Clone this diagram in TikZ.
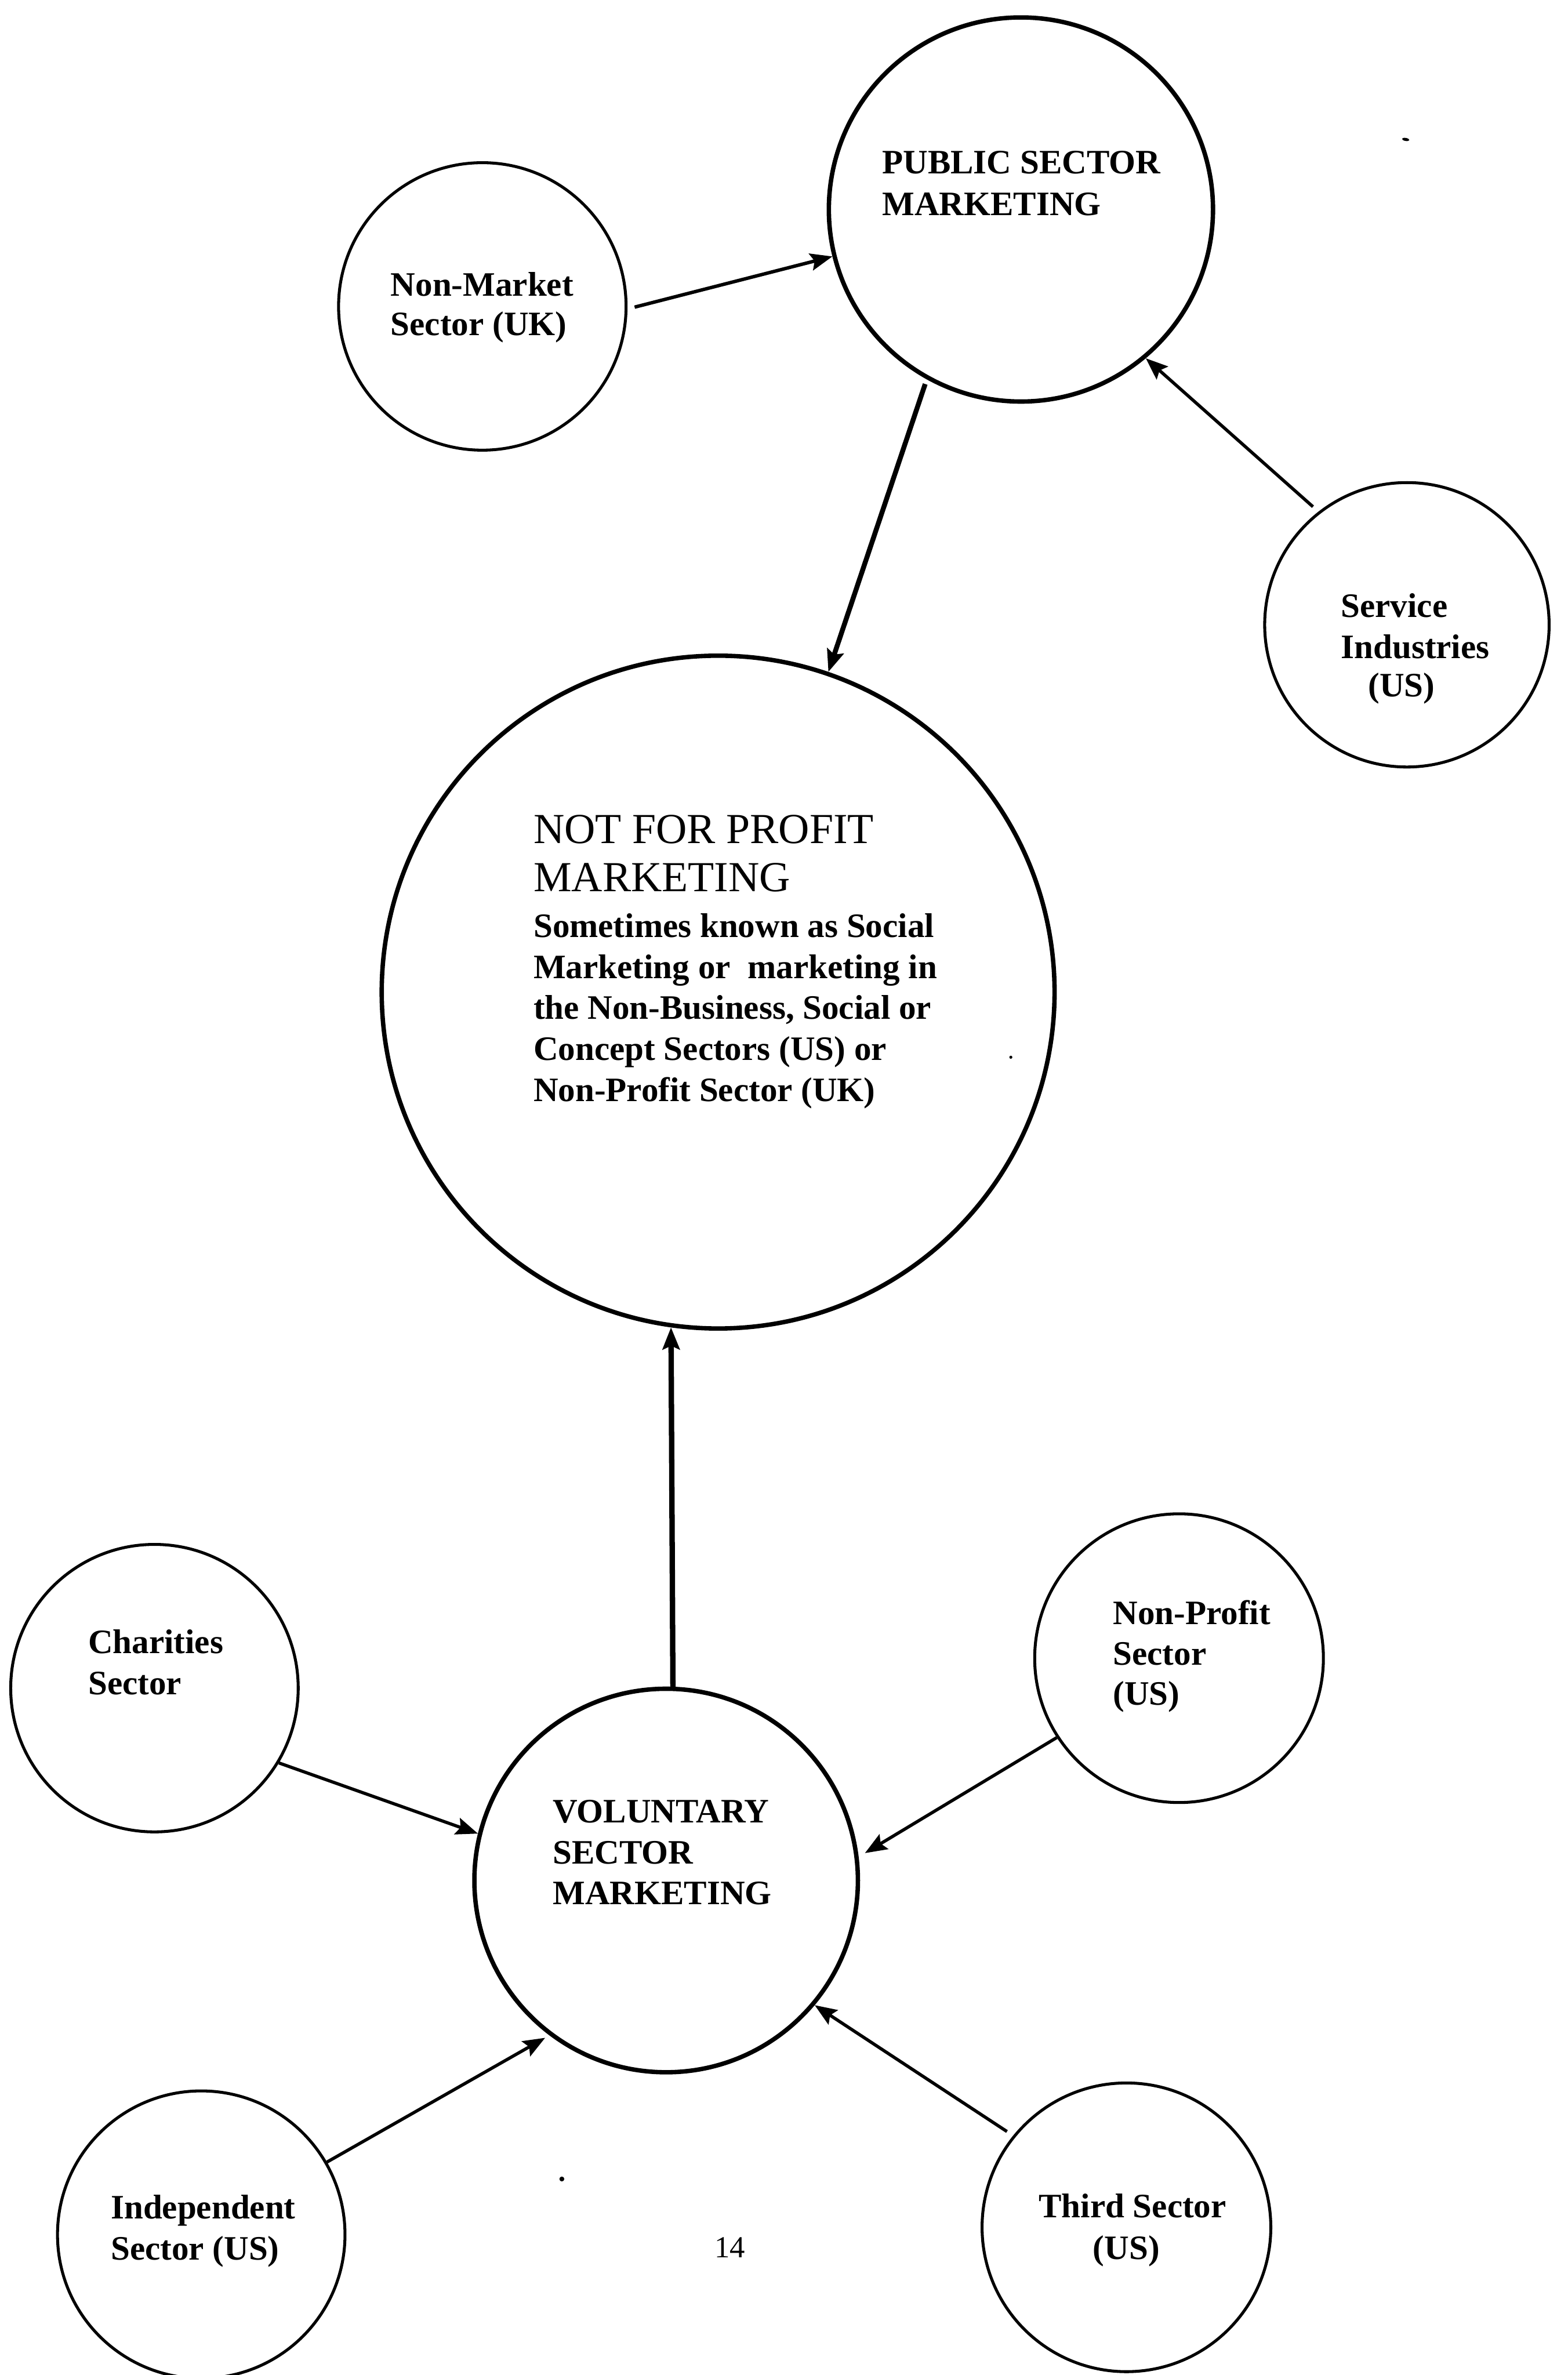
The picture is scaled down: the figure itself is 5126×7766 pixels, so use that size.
\documentclass[tikz,border=0pt]{standalone}
\usepackage{fontspec}
\setmainfont{Liberation Serif}
\usetikzlibrary{arrows.meta}
\begin{document}
\begin{tikzpicture}[x=0.125pt,y=-0.125pt,
  hub/.style={circle,draw,line width=1.8pt,inner sep=0pt},
  leaf/.style={circle,draw,line width=1.2pt,inner sep=0pt},
  lbl/.style={anchor=base west,inner sep=0pt,font=\bfseries\fontsize{14}{16}\selectfont},
  ttl/.style={anchor=base west,inner sep=0pt,font=\fontsize{17.5}{20}\selectfont},
  feed/.style={line width=1.3pt,-{Stealth[length=9pt,width=7pt,inset=1.5pt]}},
  mainfeed/.style={feed,line width=2pt}]
\useasboundingbox (0,0) rectangle (5126,7766);
\fill[white] (0,0) rectangle (5126,7766);
\clip (0,0) rectangle (5126,7766);

% circles
\node[hub,minimum size=157pt]  (pub) at (3338,685)  {};
\node[leaf,minimum size=117.5pt] (nm)  at (1577,1002) {};
\node[leaf,minimum size=116.25pt] (svc) at (4600,2043) {};
\node[hub,minimum size=275pt]  (nfp) at (2348,3244) {};
\node[leaf,minimum size=117.5pt] (cha) at (505,5520)  {};
\node[leaf,minimum size=118pt] (npr) at (3855,5422) {};
\node[hub,minimum size=156.75pt] (vol) at (2178,6149) {};
\node[leaf,minimum size=117.5pt] (ind) at (658,7307)  {};
\node[leaf,minimum size=118pt] (thd) at (3683,7283) {};

% labels
\node[lbl] (pub1) at (2883,567) {PUBLIC SECTOR};
\node[lbl] (pub2) at (2883,705) {MARKETING};

\node[lbl] (nm1) at (1276,967)  {Non-Market};
\node[lbl] (nm2) at (1276,1097) {Sector (UK)};

\node[lbl] (svc1) at (4383,2019) {Service};
\node[lbl] (svc2) at (4383,2153) {Industries};
\node[lbl] (svc3) at (4472,2278) {(US)};

\node[ttl] (nfp1) at (1743,2758) {NOT FOR PROFIT};
\node[ttl] (nfp2) at (1743,2915) {MARKETING};
\node[lbl] (nfp3) at (1743,3065) {Sometimes known as Social};
\node[lbl] (nfp4) at (1743,3199) {Marketing or~ marketing in};
\node[lbl] (nfp5) at (1743,3333) {the Non-Business, Social or};
\node[lbl] (nfp6) at (1743,3467) {Concept Sectors (US) or};
\node[lbl] (nfp7) at (1743,3601) {Non-Profit Sector (UK)};

\node[lbl] (cha1) at (287,5407) {Charities};
\node[lbl] (cha2) at (287,5541) {Sector};

\node[lbl] (npr1) at (3638,5311) {Non-Profit};
\node[lbl] (npr2) at (3638,5445) {Sector};
\node[lbl] (npr3) at (3638,5575) {(US)};

\node[lbl] (vol1) at (1806,5960) {VOLUNTARY};
\node[lbl] (vol2) at (1806,6094) {SECTOR};
\node[lbl] (vol3) at (1806,6228) {MARKETING};

\node[lbl] (ind1) at (361,7254) {Independent};
\node[lbl] (ind2) at (361,7390) {Sector (US)};

\node[lbl] (thd1) at (3395,7251) {Third Sector};
\node[lbl] (thd2) at (3572,7388) {(US)};

\node[anchor=base west,inner sep=0pt,font=\fontsize{12.5}{14}\selectfont] (pageno) at (2335,7382) {14};

% connectors
\draw[feed,line width=1.4pt,shorten <=3pt] (nm.-1) -- (pub.194);
\draw[feed,shorten <=3pt] (svc.128) -- (pub.-50);
\draw[mainfeed,shorten <=2pt] (pub.241) -- (nfp.71);
\draw[mainfeed,line width=2.2pt] (vol.88) -- (nfp.262);
\draw[feed] (cha.-31.5) -- (vol.166);
\draw[feed,shorten >=3pt] (npr.213) -- (vol.7);
\draw[feed,shorten <=3pt] (thd.141) -- (vol.-40);
\draw[feed,shorten >=2pt] (ind.30) -- (vol.233);

% specks
\fill (1837,7125) circle (8);
\fill (3305,3457) circle (5);
\fill[rotate around={-10:(4596,456)}] (4596,456) ellipse (12 and 5);
\end{tikzpicture}
\end{document}
